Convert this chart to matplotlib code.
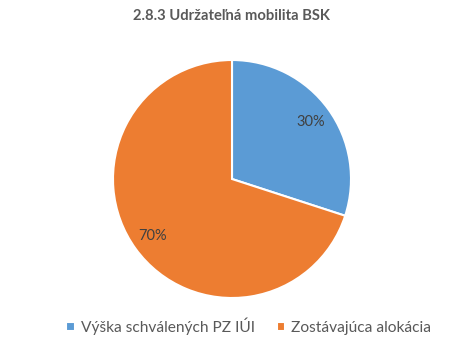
import matplotlib
matplotlib.use("Agg")
import matplotlib.pyplot as plt

plt.rcParams['font.family'] = ['Lato', 'DejaVu Sans']

labels = ['Výška schválených PZ IÚI', 'Zostávajúca alokácia']
values = [30, 70]
colors = ['#5B9BD5', '#ED7D31']

fig = plt.figure(figsize=(4.64, 3.61), dpi=100)
r = 119
cx, cy = 232, 361 - 179
ax = fig.add_axes([(cx - r) / 464, (cy - r) / 361, 2 * r / 464, 2 * r / 361])

wedges, texts, autotexts = ax.pie(values, colors=colors, startangle=90, counterclock=False,
                                  autopct='%1.0f%%', pctdistance=0.82,
                                  wedgeprops=dict(edgecolor='white', linewidth=1.5),
                                  textprops=dict(color='#404040', fontsize=10.5))
ax.set_aspect('equal')
ax.set_xlim(-1, 1)
ax.set_ylim(-1, 1)

fig.text(0.5, 1 - 16 / 361, '2.8.3 Udržateľná mobilita BSK', ha='center', va='center',
         fontsize=10.6, fontweight='bold', color='#595959')

fig.legend(wedges, labels, loc='center', bbox_to_anchor=(0.536, 1 - 326 / 361), ncol=2,
           frameon=False, fontsize=11.2, handlelength=0.55, handleheight=0.55,
           handletextpad=0.4, columnspacing=1.4, labelcolor='#595959')

fig.savefig('out.png', dpi=100)
